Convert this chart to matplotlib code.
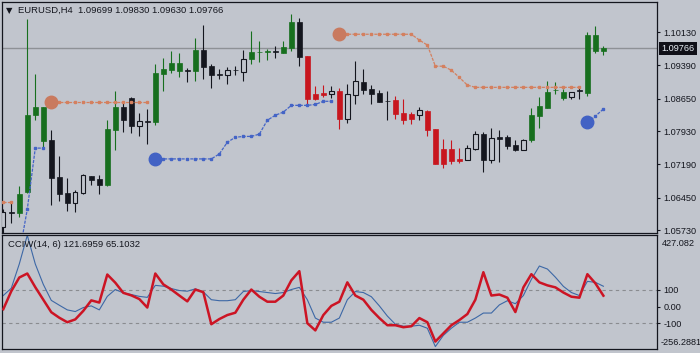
import numpy as np
import matplotlib
matplotlib.use('Agg')
import matplotlib.pyplot as plt

bg = '#c1c5cd'
ink = '#14161e'

# EURUSD H4 candles
opens = [1.0579, 1.0612, 1.0610, 1.0658, 1.0829, 1.0771, 1.0773, 1.0690, 1.0655, 1.0634,
         1.0656, 1.0693, 1.0686, 1.0672, 1.0796, 1.0846, 1.0866, 1.0805, 1.0815, 1.0812,
         1.0920, 1.0929, 1.0926, 1.0929, 1.0926, 1.0973, 1.0938, 1.0919, 1.0918, 1.0929,
         1.0925, 1.0953, 1.0968, 1.0969, 1.0970, 1.0966, 1.0978, 1.1035, 1.0960, 1.0875,
         1.0877, 1.0875, 1.0882, 1.0820, 1.0873, 1.0902, 1.0886, 1.0878, 1.0860, 1.0862,
         1.0833, 1.0831, 1.0829, 1.0837, 1.0798, 1.0753, 1.0753, 1.0731, 1.0729, 1.0753,
         1.0787, 1.0729, 1.0780, 1.0780, 1.0762, 1.0751, 1.0772, 1.0826, 1.0844, 1.0884,
         1.0866, 1.0868, 1.0884, 1.0878, 1.1006, 1.09699]
highs = [1.0619, 1.0632, 1.0671, 1.1043, 1.0919, 1.0846, 1.0795, 1.0738, 1.0689, 1.0662,
         1.0697, 1.0693, 1.0696, 1.0818, 1.0882, 1.0855, 1.0868, 1.0834, 1.0842, 1.0942,
         1.0955, 1.0971, 1.0966, 1.0932, 1.1000, 1.1029, 1.0942, 1.0931, 1.0935, 1.0937,
         1.0973, 1.1015, 1.0993, 1.0975, 1.0982, 1.0993, 1.1053, 1.1044, 1.0960, 1.0893,
         1.0895, 1.0893, 1.0889, 1.0897, 1.0949, 1.0931, 1.0895, 1.0884, 1.0882, 1.0871,
         1.0864, 1.0835, 1.0846, 1.0840, 1.0798, 1.0775, 1.0773, 1.0755, 1.0762, 1.0793,
         1.0791, 1.0800, 1.0795, 1.0784, 1.0773, 1.0775, 1.0844, 1.0869, 1.0904, 1.0902,
         1.0886, 1.0880, 1.0889, 1.1013, 1.1026, 1.09830]
lows = [1.0551, 1.0588, 1.0601, 1.0656, 1.0817, 1.0755, 1.0629, 1.0638, 1.0616, 1.0612,
        1.0653, 1.0672, 1.0654, 1.0671, 1.0751, 1.0791, 1.0789, 1.0783, 1.0764, 1.0806,
        1.0882, 1.0922, 1.0913, 1.0902, 1.0904, 1.0909, 1.0889, 1.0909, 1.0898, 1.0918,
        1.0905, 1.0942, 1.0946, 1.0951, 1.0955, 1.0966, 1.0971, 1.0938, 1.0851, 1.0862,
        1.0869, 1.0866, 1.0798, 1.0811, 1.0853, 1.0875, 1.0853, 1.0858, 1.0817, 1.0820,
        1.0809, 1.0809, 1.0817, 1.0782, 1.0720, 1.0711, 1.0720, 1.0722, 1.0729, 1.0751,
        1.0702, 1.0722, 1.0725, 1.0753, 1.0749, 1.0751, 1.0769, 1.0800, 1.0844, 1.0875,
        1.0862, 1.0864, 1.0864, 1.0871, 1.0966, 1.09630]
closes = [1.0612, 1.0611, 1.0653, 1.0828, 1.0846, 1.0846, 1.0689, 1.0654, 1.0634, 1.0658,
          1.0695, 1.0685, 1.0672, 1.0798, 1.0846, 1.0818, 1.0805, 1.0815, 1.0813, 1.0922,
          1.0931, 1.0944, 1.0944, 1.0927, 1.0973, 1.0935, 1.0918, 1.0918, 1.0929, 1.0928,
          1.0952, 1.0969, 1.0969, 1.0970, 1.0969, 1.0980, 1.1035, 1.0957, 1.0864, 1.0864,
          1.0873, 1.0882, 1.0820, 1.0875, 1.0904, 1.0884, 1.0875, 1.0858, 1.0859, 1.0831,
          1.0817, 1.0820, 1.0840, 1.0795, 1.0720, 1.0720, 1.0726, 1.0726, 1.0755, 1.0787,
          1.0729, 1.0778, 1.0776, 1.0760, 1.0751, 1.0773, 1.0829, 1.0849, 1.0880, 1.0885,
          1.0880, 1.0880, 1.0883, 1.1006, 1.0970, 1.09766]
# candle paint: w = hollow, k = black, g = green, r = red
kinds = 'wkggggkkkwwkkggkkwkggggkgkkkwkwgggkggkrrrwrwwkkkkrrrwrrrrrwwkwkkkwgggggwkggg'

# trailing stop lines: (first bar, values, starts with a big dot)
orange_segs = [(0, [1.0635, 1.0635], False),
               (6, [1.0858] * 13, True),
               (42, [1.1008] * 10 + [1.0995, 1.0984, 1.0937, 1.0937, 1.0928, 1.0912, 1.0895]
                + [1.0890] * 14, True)]
blue_segs = [(2, [1.0520, 1.0619, 1.0755, 1.0755], False),
             (19, [1.0731] * 8 + [1.0742, 1.0768, 1.0779, 1.0781, 1.0781, 1.0786, 1.0817,
                                 1.0828, 1.0835, 1.0850, 1.0850, 1.0850, 1.0852, 1.0859, 1.0859], True),
             (73, [1.0812, 1.0826, 1.0842], True)]

# CCIW(14, 6)
cci_slow = [66, 110, 255, 427, 255, 133, 37, 8, -20, -30,
            -6, 4, -20, 61, 102, 82, 72, 61, 55, 127,
            122, 108, 96, 92, 106, 88, 41, 35, 35, 41,
            90, 96, 90, 84, 78, 84, 102, 115, 41, -69,
            -94, -94, -69, 41, 90, 84, 59, 4, -57, -106,
            -118, -118, -112, -130, -240, -173, -130, -94, -94, -69,
            -39, -39, 10, 35, 17, 66, 163, 243, 225, 176,
            121, 84, 66, 151, 145, 121.6959]
cci_fast = [-16, 92, 174, 198, 116, 41, -34, -67, -94, -77,
            -26, 37, 24, 192, 143, 82, 67, 45, -6, 198,
            133, 102, 66, 31, 102, 86, -106, -75, -51, -37,
            41, 102, 59, 29, 29, 66, 157, 212, -100, -143,
            -51, 4, 29, 145, 66, 41, -20, -69, -112, -112,
            -124, -118, -69, -94, -210, -161, -112, -81, -45, 41,
            206, 66, 72, 53, -33, 115, 194, 145, 127, 115,
            84, 59, 53, 194, 139, 65.1032]

price_ticks = [1.10130, 1.09390, 1.08650, 1.07930, 1.07190, 1.06450, 1.05730]
last_price = 1.09766
cci_levels = [100, 0, -100]
cci_labels = ['100', '0.00', '-100']
cci_min, cci_max = -256.2881, 427.082

plt.rcParams['font.family'] = ['Liberation Sans', 'DejaVu Sans']

fig = plt.figure(figsize=(7, 3.53), dpi=100, facecolor=bg)
W, H = 700, 353
ax = fig.add_axes([2 / W, 1 - 233.3 / H, 655 / W, 231 / H], facecolor=bg)
ax2 = fig.add_axes([2 / W, 1 - 349.3 / H, 655 / W, 114 / H], facecolor=bg)

cols = {'w': ink, 'k': ink, 'g': '#176f1e', 'r': '#c8161e'}
n = len(opens)
x = np.arange(n)

ax.axhline(last_price, color='#8e9196', lw=1, zorder=1)
for i in range(n):
    c = cols[kinds[i]]
    ax.vlines(i, lows[i], highs[i], color=c, lw=0.8, zorder=2)
    top, bot = max(opens[i], closes[i]), min(opens[i], closes[i])
    if kinds[i] == 'w':
        ax.bar(i, top - bot, 0.55, bot, facecolor=bg, edgecolor=ink, lw=0.8, zorder=3)
    else:
        ax.bar(i, top - bot, 0.62, bot, color=c, edgecolor=c, lw=0.5, zorder=3)

for segs, lc, dc in [(orange_segs, '#d4805f', '#c97a5f'), (blue_segs, '#4464c6', '#4262c4')]:
    for start, vals, dot in segs:
        xs = np.arange(start, start + len(vals))
        ax.plot(xs, vals, color=lc, lw=0.9, ls=(0, (2.5, 1)), marker='s', ms=1.8,
                mec=lc, mfc=lc, zorder=4)
        if dot:
            ax.plot(xs[0], vals[0], 'o', ms=9, color=dc, zorder=5)

ax.set_xlim(-0.16, 81.7)
ax.set_ylim(1.05657, 1.10790)
ax.set_xticks([])
ax.yaxis.tick_right()
ax.set_yticks(price_ticks)
ax.set_yticklabels(['%.5f' % p for p in price_ticks])
ax.tick_params(axis='y', length=2.5, width=0.8, color=ink, labelsize=6.6,
               labelcolor=ink, pad=2)
for s in ax.spines.values():
    s.set_color(ink)
    s.set_linewidth(0.9)

ax.annotate('%.5f' % last_price, xy=(1, last_price), xycoords=('axes fraction', 'data'),
            xytext=(3.2, 0), textcoords='offset points', va='center', ha='left',
            fontsize=6.6, color='#e8eef4',
            bbox=dict(boxstyle='square,pad=0.22', fc='#101018', ec='none'))

fig.text(6 / W, 1 - 10.5 / H, '\u25bc', fontsize=6, color=ink, va='center',
         family='DejaVu Sans')
fig.text(18 / W, 1 - 10.5 / H, 'EURUSD,H4  1.09699 1.09830 1.09630 1.09766',
         fontsize=6.8, color=ink, va='center')

# CCI window
for lv in [100, -100]:
    ax2.axhline(lv, color='#8a8c90', lw=0.8, ls=(0, (3, 3)), zorder=1)
ax2.plot(x, cci_slow, color='#3d68a6', lw=0.8, zorder=2)
ax2.plot(x, cci_fast, color='#cc1424', lw=1.8, zorder=3)
ax2.set_xlim(-0.16, 81.7)
ax2.set_ylim(cci_min, cci_max)
ax2.set_xticks([])
ax2.yaxis.tick_right()
ax2.set_yticks(cci_levels)
ax2.set_yticklabels(cci_labels)
ax2.tick_params(axis='y', length=2.5, width=0.8, color=ink, labelsize=6.6,
                labelcolor=ink, pad=2)
for s in ax2.spines.values():
    s.set_color(ink)
    s.set_linewidth(0.9)
ax2.annotate('427.082', xy=(1, 1), xycoords='axes fraction', xytext=(3.2, -3),
             textcoords='offset points', va='top', ha='left', fontsize=6.6, color=ink)
ax2.annotate('-256.2881', xy=(1, 0), xycoords='axes fraction', xytext=(2.5, 2),
             textcoords='offset points', va='bottom', ha='left', fontsize=6.6, color=ink)
ax2.text(6 / 655, 1 - 9 / 114, 'CCIW(14, 6) 121.6959 65.1032', transform=ax2.transAxes,
         fontsize=6.8, color=ink, va='center', ha='left')

fig.savefig('out.png', dpi=100, facecolor=bg)
